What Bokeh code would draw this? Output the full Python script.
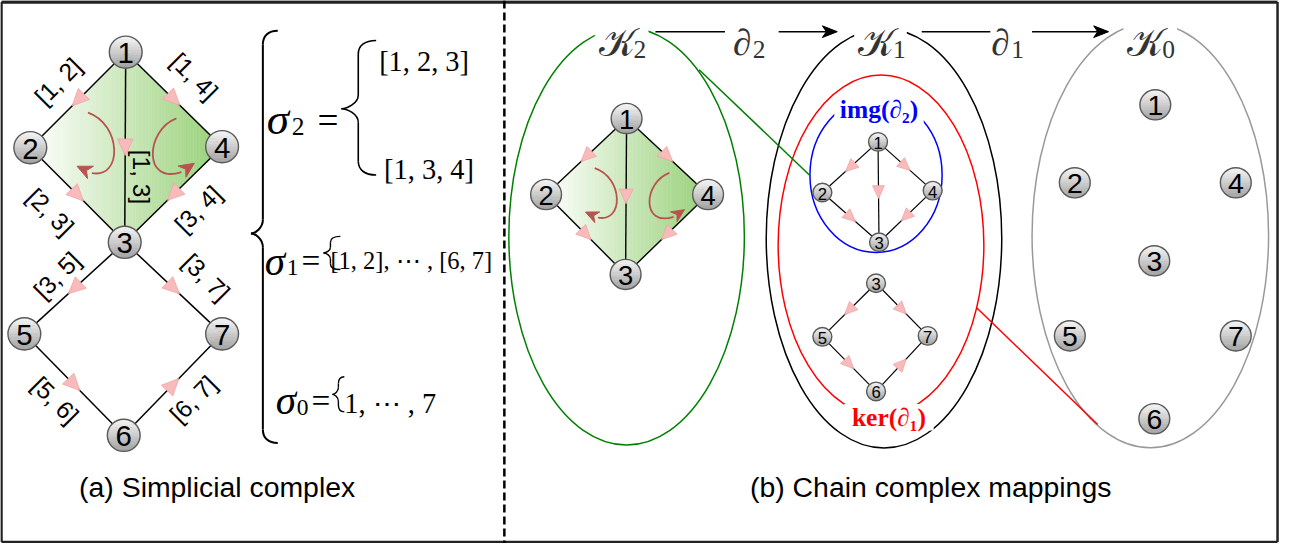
import numpy as np
from bokeh.plotting import figure
from bokeh.models import Range1d
from bokeh.embed import file_html
from bokeh.resources import INLINE
from bokeh.core.properties import value

# ---------------- data ----------------
vertices = ["1", "2", "3", "4", "5", "6", "7"]
# oriented edges: the arrow points towards the second vertex
edges_triangles = [("1", "2"), ("1", "4"), ("1", "3"), ("2", "3"), ("4", "3")]
edges_cycle = [("3", "5"), ("3", "7"), ("5", "6"), ("6", "7")]
edge_names = ["[1, 2]", "[1, 4]", "[1, 3]", "[2, 3]", "[3, 4]",
              "[3, 5]", "[3, 7]", "[5, 6]", "[6, 7]"]
sigma2_items = ["[1, 2, 3]", "[1, 3, 4]"]
sigma1_item = "[1, 2], ⋯ , [6, 7]"
sigma0_item = "1, ⋯ , 7"
sigma_orders = ["2", "1", "0"]
chain_orders = ["2", "1", "0"]       # K_2, K_1, K_0
boundary_orders = ["2", "1"]         # d_2, d_1
subspace_names = ["img(∂₂)", "ker(∂₁)"]
captions = ["(a) Simplicial complex", "(b) Chain complex mappings"]

# ---------------- layout (reference pixel coordinates, y downwards) ----------------
pos_a = {"1": (130, 54), "2": (34, 152), "3": (129, 249), "4": (227, 151),
         "5": (28, 343), "6": (128, 447), "7": (227, 343)}
pos_k2 = {"1": (634, 122), "2": (553, 200), "3": (633, 282), "4": (716, 200)}
pos_img = {"1": (887, 146), "2": (831, 198), "3": (888, 249), "4": (942, 196)}
pos_ker = {"3": (885, 291), "5": (831, 346), "6": (885, 402), "7": (937, 345)}
pos_k0 = {"1": (1166, 108), "2": (1085, 188), "3": (1165, 268), "4": (1247, 188),
          "5": (1080, 345), "6": (1165, 430), "7": (1247, 345)}
edge_label_layout = [((62, 84), 45), ((199, 79), -45), ((146, 182), -90),
                     ((54, 218), -45), ((203, 215), 45), ((61, 283), 45),
                     ((211, 285), -45), ((59, 411), -45), ((198, 410), 45)]

S = 0.98
def fs(px):
    return f"{px * S:.1f}px"

SANS = value("Liberation Sans")
SERIF = value("Liberation Serif")

p = figure(width=1282, height=543, x_range=Range1d(4, 1294), y_range=Range1d(558, 1),
           x_axis_type=None, y_axis_type=None, output_backend="svg",
           toolbar_location=None, min_border=0,
           background_fill_color="white", border_fill_color="white")
p.outline_line_color = None


def hexmix(c0, c1, t):
    a = np.array([int(c0[i:i + 2], 16) for i in (1, 3, 5)])
    b = np.array([int(c1[i:i + 2], 16) for i in (1, 3, 5)])
    c = np.round(a + (b - a) * t).astype(int)
    return "#%02x%02x%02x" % tuple(c)


# ---------------- frame ----------------
p.segment([5, 5, 1289, 5], [2.5, 2.5, 2.5, 556.5], [1289, 5, 1289, 1289],
          [2.5, 556.5, 556.5, 556.5],
          line_color="#222222", line_width=[3.5, 2.5, 2.5, 2.5])
p.segment([511], [1], [511], [558], line_color="black", line_width=2.5, line_dash="8 4")


# ---------------- helpers ----------------
def diamond_fill(pos, n=60):
    quad = [pos["1"], pos["4"], pos["3"], pos["2"]]
    xl, xr = pos["2"][0], pos["4"][0]

    def yr(x):
        hits = []
        for i in range(4):
            (x0, y0), (x1, y1) = quad[i], quad[(i + 1) % 4]
            if x1 != x0 and min(x0, x1) - 1e-9 <= x <= max(x0, x1) + 1e-9:
                hits.append(y0 + (y1 - y0) * (x - x0) / (x1 - x0))
        return min(hits), max(hits)

    xs, ys, cols = [], [], []
    for i in range(n):
        xx = np.linspace(xl + (xr - xl) * i / n, xl + (xr - xl) * (i + 1) / n, 4)
        tops = [yr(x)[0] for x in xx]
        bots = [yr(x)[1] for x in xx]
        xs.append(list(xx) + list(xx[::-1]))
        ys.append(tops + bots[::-1])
        cols.append(hexmix("#ffffff", "#97d077", (i + 0.5) / n))
    p.patches(xs, ys, fill_color=cols, line_color=cols, line_width=0.6)


def draw_edges(pos, edges, lw):
    x0 = [pos[a][0] for a, b in edges]
    y0 = [pos[a][1] for a, b in edges]
    x1 = [pos[b][0] for a, b in edges]
    y1 = [pos[b][1] for a, b in edges]
    p.segment(x0, y0, x1, y1, line_color="black", line_width=lw)


def draw_pink_arrows(pos, edges, L, B):
    xs, ys = [], []
    for a, b in edges:
        ax, ay = pos[a]
        bx, by = pos[b]
        cx, cy = (ax + bx) / 2, (ay + by) / 2
        d = np.array([bx - ax, by - ay], float)
        d /= np.hypot(*d)
        nrm = np.array([-d[1], d[0]])
        tip = np.array([cx, cy]) + d * L / 2
        back = np.array([cx, cy]) - d * L / 2
        c1 = back + nrm * B / 2
        c2 = back - nrm * B / 2
        xs.append([tip[0], c1[0], c2[0]])
        ys.append([tip[1], c1[1], c2[1]])
    p.patches(xs, ys, fill_color="#f7bbbb", line_color="#f3a3a3", line_width=0.8)


def draw_nodes(pos, r, font_px, n=12):
    xs, ys, cols = [], [], []
    for k, (cx, cy) in pos.items():
        for i in range(n):
            yy = np.linspace(cy - r + 2 * r * i / n, cy - r + 2 * r * (i + 1) / n, 4)
            hw = np.sqrt(np.clip(r * r - (yy - cy) ** 2, 0, None))
            xs.append(list(np.concatenate([cx + hw, (cx - hw)[::-1]])))
            ys.append(list(np.concatenate([yy, yy[::-1]])))
            cols.append(hexmix("#f8f8f8", "#a0a0a0", (i + 0.5) / n))
    p.patches(xs, ys, fill_color=cols, line_color=cols, line_width=0.5)
    cx = [v[0] for v in pos.values()]
    cy = [v[1] for v in pos.values()]
    p.ellipse(cx, cy, width=2 * r, height=2 * r, fill_color=None,
              line_color="#5a5a5a", line_width=1.4)
    p.text(cx, [c + 1 for c in cy], text=list(pos.keys()), text_font=SANS,
           text_font_size=fs(font_px), text_align="center", text_baseline="middle",
           text_color="black")


def bez_arrow(P0, C1, C2, P3, tip, L, W, color="#b85450", lw=1.8):
    p.bezier(x0=[P0[0]], y0=[P0[1]], x1=[P3[0]], y1=[P3[1]],
             cx0=[C1[0]], cy0=[C1[1]], cx1=[C2[0]], cy1=[C2[1]],
             line_color=color, line_width=lw)
    t = np.array(tip, float)
    d = t - np.array(P3, float)
    d /= np.hypot(*d)
    nrm = np.array([-d[1], d[0]])
    back = t - d * L
    notch = t - d * L * 0.7
    pts = [t, back + nrm * W, notch, back - nrm * W]
    p.patch([q[0] for q in pts], [q[1] for q in pts], fill_color=color,
            line_color=color, line_width=1)


def brace(x_end, x_v, x_c, y_top, y_c, y_bot, h, lw):
    segs = [
        ((x_end, y_top), (x_v + (x_end - x_v) * 0.35, y_top), (x_v, y_top + h * 0.4), (x_v, y_top + h)),
        ((x_v, y_c - h), (x_v, y_c - h * 0.4), (x_c + (x_v - x_c) * 0.35, y_c), (x_c, y_c)),
        ((x_c, y_c), (x_c + (x_v - x_c) * 0.35, y_c), (x_v, y_c + h * 0.4), (x_v, y_c + h)),
        ((x_v, y_bot - h), (x_v, y_bot - h * 0.4), (x_v + (x_end - x_v) * 0.35, y_bot), (x_end, y_bot)),
    ]
    p.bezier(x0=[s[0][0] for s in segs], y0=[s[0][1] for s in segs],
             x1=[s[3][0] for s in segs], y1=[s[3][1] for s in segs],
             cx0=[s[1][0] for s in segs], cy0=[s[1][1] for s in segs],
             cx1=[s[2][0] for s in segs], cy1=[s[2][1] for s in segs],
             line_color="black", line_width=lw)
    p.segment([x_v, x_v], [y_top + h, y_c + h], [x_v, x_v], [y_c - h, y_bot - h],
              line_color="black", line_width=lw)


# curved orientation arrows of panel (a), in panel (a) coordinates
curve_defs = [((92, 116), (126, 128), (127, 184), (96, 178), (81, 171)),
              ((181, 122), (150, 134), (147, 190), (186, 177), (199, 168))]


def affine_to(pos_src, pos_dst):
    sx = (pos_dst["4"][0] - pos_dst["2"][0]) / (pos_src["4"][0] - pos_src["2"][0])
    sy = (pos_dst["3"][1] - pos_dst["1"][1]) / (pos_src["3"][1] - pos_src["1"][1])
    ox, oy = pos_src["1"]
    dx, dy = pos_dst["1"]
    return lambda q: (dx + sx * (q[0] - ox), dy + sy * (q[1] - oy)), sx


# ---------------- panel (a) ----------------
diamond_fill(pos_a)
draw_edges(pos_a, edges_triangles + edges_cycle, 1.5)
draw_pink_arrows(pos_a, edges_triangles + edges_cycle, 17, 16)
for P0, C1, C2, P3, T in curve_defs:
    bez_arrow(P0, C1, C2, P3, T, 15, 7)
draw_nodes(pos_a, 16.5, 30)
p.text([q[0][0] for q in edge_label_layout], [q[0][1] for q in edge_label_layout],
       text=edge_names, angle=[q[1] for q in edge_label_layout], angle_units="deg",
       text_font=SANS, text_font_size=fs(25), text_align="center",
       text_baseline="middle", text_color="black")

# simplices listing
brace(283, 268, 256, 32, 240, 455, 14, 2.0)
brace(382, 364, 347, 42, 112, 180, 14, 1.6)
brace(346, 336, 329, 243, 260, 277, 6, 1.4)
brace(350, 344, 338, 387, 405, 423, 7, 1.4)

p.text([272, 270, 281], [123, 268, 411], text=["σ"] * 3, text_font=SERIF,
       text_font_style="italic",
       text_font_size=[fs(46), fs(42), fs(42)], text_baseline="alphabetic",
       text_align="left", text_color="black")
p.text([297, 292, 302], [130, 275, 418], text=sigma_orders, text_font=SERIF,
       text_font_size=[fs(26), fs(24), fs(24)], text_baseline="alphabetic",
       text_align="left", text_color="black")
p.text([323, 307, 317], [124, 268, 411], text=["="] * 3, text_font=SERIF,
       text_font_size=[fs(38), fs(34), fs(34)], text_baseline="alphabetic",
       text_align="left", text_color="black")
p.text([385, 390], [64, 174], text=sigma2_items, text_font=SERIF,
       text_font_size=fs(29), text_baseline="alphabetic", text_align="left",
       text_color="black")
p.text([336], [268], text=[sigma1_item], text_font=SERIF, text_font_size=fs(25),
       text_baseline="alphabetic", text_align="left", text_color="black")
p.text([350], [414], text=[sigma0_item], text_font=SERIF, text_font_size=fs(29),
       text_baseline="alphabetic", text_align="left", text_color="black")

# ---------------- panel (b) ----------------
# ellipses: K2, K1, ker, img, K0
ell_x = [634, 893, 890, 885, 1161]
ell_y = [243, 245, 252, 180, 242]
ell_w = [237, 237, 207, 133, 238]
ell_h = [428, 430, 349, 159, 436]
ell_c = ["#008000", "#000000", "#ff0000", "#0000ff", "#999999"]
p.ellipse(ell_x, ell_y, width=ell_w, height=ell_h, fill_color=None,
          line_color=ell_c, line_width=1.5)
# connector lines
p.segment([707, 986], [72, 316], [819, 1108], [181, 436],
          line_color=["#008000", "#ff0000"], line_width=1.5)

# K2 copy of the 2-complex
tf, sk = affine_to(pos_a, pos_k2)
diamond_fill(pos_k2)
draw_edges(pos_k2, edges_triangles, 1.4)
draw_pink_arrows(pos_k2, edges_triangles, 15, 14)
for P0, C1, C2, P3, T in curve_defs:
    bez_arrow(tf(P0), tf(C1), tf(C2), tf(P3), tf(T), 13, 6)
draw_nodes(pos_k2, 15.5, 28)

# K1: image and kernel
draw_edges(pos_img, edges_triangles, 1.2)
draw_pink_arrows(pos_img, edges_triangles, 13, 12)
draw_nodes(pos_img, 9.5, 17)
draw_edges(pos_ker, edges_cycle, 1.2)
draw_pink_arrows(pos_ker, edges_cycle, 13, 12)
draw_nodes(pos_ker, 9.5, 17)

# K0 vertices
draw_nodes(pos_k0, 15.5, 29)

# white gaps behind labels
p.quad(left=[602, 863, 1134, 843, 853], right=[656, 916, 1188, 933, 943],
       top=[10, 10, 10, 99, 415], bottom=[56, 56, 56, 127, 442],
       fill_color="white", line_color=None)

# subspace labels
p.text([888, 898], [113, 429], text=subspace_names, text_font=SERIF,
       text_font_style="bold", text_font_size=fs(26), text_align="center",
       text_baseline="middle", text_color=["#0000ff", "#ff0000"])

# chain spaces
kx = [606, 867, 1138]
p.text(kx, [44, 44, 44], text=["𝒦"] * 3, text_font=value("DejaVu Serif"),
       text_font_size=fs(40), text_align="left", text_baseline="alphabetic",
       text_color="#333333")
p.text([x + 35 for x in kx], [51, 51, 51], text=chain_orders, text_font=SERIF,
       text_font_size=fs(26), text_align="left", text_baseline="alphabetic",
       text_color="#333333")
dx = [741, 1001]
p.text(dx, [44, 44], text=["∂"] * 2, text_font=SERIF, text_font_style="italic",
       text_font_size=fs(38), text_align="left", text_baseline="alphabetic",
       text_color="#333333")
p.text([x + 20 for x in dx], [51, 51], text=boundary_orders, text_font=SERIF,
       text_font_size=fs(26), text_align="left", text_baseline="alphabetic",
       text_color="#333333")

# map arrows
p.segment([663, 787, 931, 1042], [33] * 4, [733, 836, 1000, 1109], [33] * 4,
          line_color="black", line_width=1.6)
for xt in (846, 1119):
    pts = [(xt, 33), (xt - 15, 27), (xt - 11, 33), (xt - 15, 39)]
    p.patch([q[0] for q in pts], [q[1] for q in pts], fill_color="black",
            line_color="black", line_width=1)

# captions
p.text([222, 940], [500, 500], text=captions, text_font=SANS, text_font_size=fs(29),
       text_align="center", text_baseline="middle", text_color="black")

open("out.html", "w").write(file_html(p, INLINE))
